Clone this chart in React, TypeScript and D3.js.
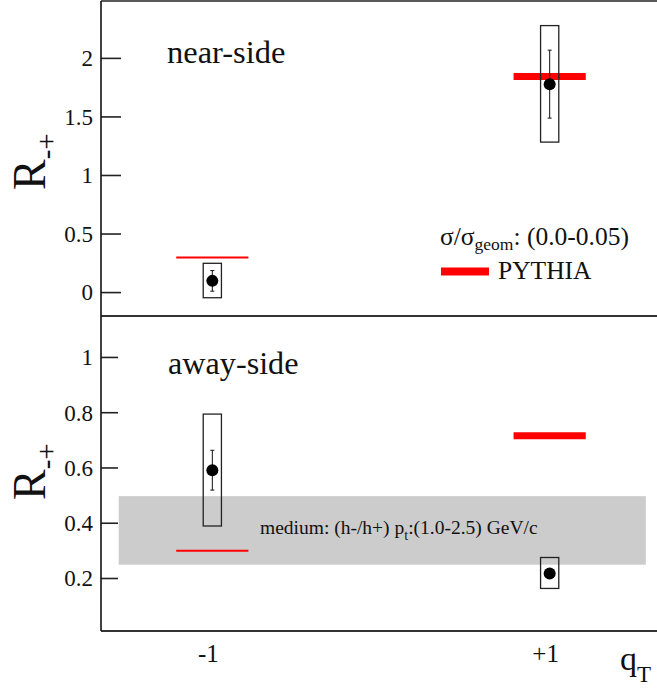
import React from 'react';
import * as d3 from 'd3';

// ---- data ----
const qValues = [-1, 1];
const qLabels = ['-1', '+1'];

const nearValue = [0.1, 1.78];
const nearStat = [0.088, 0.29];
const nearSysLow = [-0.044, 1.285];
const nearSysHigh = [0.25, 2.28];
const nearPythia = [0.3, 1.846];

const awayValue = [0.592, 0.218];
const awayStat = [0.072, 0.012];
const awaySysLow = [0.39, 0.164];
const awaySysHigh = [0.795, 0.276];
const awayPythia = [0.3, 0.717];

const mediumBand = [0.25, 0.498];
const bandQRange = [-1.555, 1.57];

const nearTicks = [0, 0.5, 1, 1.5, 2];
const awayTicks = [0.2, 0.4, 0.6, 0.8, 1];

const nearDomain = [-0.2, 2.49];
const awayDomain = [0.01, 1.15];
const qDomain = [-1.66, 1.66];

// ---- styles ----
const FONT = "'Liberation Serif', 'DejaVu Serif', serif";
const W = 657;
const H = 688;
const LEFT = 101;
const pythiaWidths = [2, 7];
const boxHalf = 0.054;
const pythiaHalf = 0.214;

const x = d3.scaleLinear().domain(qDomain).range([LEFT, 661]);
const yNear = d3.scaleLinear().domain(nearDomain).range([316, 1]);
const yAway = d3.scaleLinear().domain(awayDomain).range([631, 316]);

function fmt(v: number) {
  return String(v);
}

type PanelProps = {
  y: d3.ScaleLinear<number, number>;
  ticks: number[];
  tickLen: number;
  value: number[];
  stat: number[];
  sysLow: number[];
  sysHigh: number[];
  pythia: number[];
};

function Panel({ y, ticks, tickLen, value, stat, sysLow, sysHigh, pythia }: PanelProps) {
  return (
    <g>
      {ticks.map((t) => (
        <g key={t}>
          <line x1={LEFT} x2={LEFT + tickLen} y1={y(t)} y2={y(t)} stroke="#222" strokeWidth={1.6} />
          <text
            x={93}
            y={y(t)}
            dy="0.34em"
            textAnchor="end"
            style={{ fontFamily: FONT }}
            fontSize={23}
            fill="#111"
          >
            {fmt(t)}
          </text>
        </g>
      ))}
      {qValues.map((q, i) => (
        <line
          key={'p' + i}
          x1={x(q - pythiaHalf)}
          x2={x(q + pythiaHalf)}
          y1={y(pythia[i])}
          y2={y(pythia[i])}
          stroke="#ff0000"
          strokeWidth={pythiaWidths[i]}
        />
      ))}
      {qValues.map((q, i) => (
        <g key={'d' + i}>
          <rect
            x={x(q - boxHalf)}
            y={y(sysHigh[i])}
            width={x(q + boxHalf) - x(q - boxHalf)}
            height={y(sysLow[i]) - y(sysHigh[i])}
            fill="none"
            stroke="#222"
            strokeWidth={1.3}
          />
          <line x1={x(q)} x2={x(q)} y1={y(value[i] + stat[i])} y2={y(value[i] - stat[i])} stroke="#111" strokeWidth={1} />
          <line x1={x(q) - 2} x2={x(q) + 2} y1={y(value[i] + stat[i])} y2={y(value[i] + stat[i])} stroke="#111" strokeWidth={1} />
          <line x1={x(q) - 2} x2={x(q) + 2} y1={y(value[i] - stat[i])} y2={y(value[i] - stat[i])} stroke="#111" strokeWidth={1} />
          <circle cx={x(q)} cy={y(value[i])} r={6} fill="#000" />
        </g>
      ))}
    </g>
  );
}

function RLabel({ px, py }: { px: number; py: number }) {
  return (
    <text
      transform={`translate(${px},${py}) rotate(-90)`}
      style={{ fontFamily: FONT }}
      fontSize={46}
      fill="#111"
    >
      R
      <tspan fontSize={29} dy={11}>-+</tspan>
    </text>
  );
}

export default function App() {
  return (
    <svg
      width={W}
      height={H}
      style={{ position: 'absolute', left: 0, top: 0, background: '#fff', fontFamily: FONT }}
    >
      <rect x={0} y={0} width={W} height={H} fill="#fff" />
      {/* medium band */}
      <rect
        x={x(bandQRange[0])}
        y={yAway(mediumBand[1])}
        width={x(bandQRange[1]) - x(bandQRange[0])}
        height={yAway(mediumBand[0]) - yAway(mediumBand[1])}
        fill="#cccccc"
      />
      <text x={260} y={534} style={{ fontFamily: FONT }} fontSize={19.5} fill="#111">
        medium: (h-/h+) p<tspan fontSize={14} dy={6}>t</tspan>
        <tspan dy={-6}>:(1.0-2.5) GeV/c</tspan>
      </text>

      <Panel
        y={yNear}
        ticks={nearTicks}
        tickLen={20}
        value={nearValue}
        stat={nearStat}
        sysLow={nearSysLow}
        sysHigh={nearSysHigh}
        pythia={nearPythia}
      />
      <Panel
        y={yAway}
        ticks={awayTicks}
        tickLen={17}
        value={awayValue}
        stat={awayStat}
        sysLow={awaySysLow}
        sysHigh={awaySysHigh}
        pythia={awayPythia}
      />

      {/* frames */}
      <line x1={LEFT} x2={W} y1={1} y2={1} stroke="#222" strokeWidth={1.6} />
      <line x1={LEFT} x2={W} y1={316} y2={316} stroke="#333" strokeWidth={1.8} />
      <line x1={LEFT} x2={W} y1={631} y2={631} stroke="#333" strokeWidth={1.8} />
      <line x1={LEFT} x2={LEFT} y1={1} y2={631} stroke="#111" strokeWidth={1.6} />

      {/* panel titles */}
      <text x={167} y={63} style={{ fontFamily: FONT }} fontSize={32.5} fill="#111">near-side</text>
      <text x={168} y={374} style={{ fontFamily: FONT }} fontSize={32.2} fill="#111">away-side</text>

      {/* legend */}
      <text x={440} y={245} style={{ fontFamily: FONT }} fontSize={25.5} fill="#111">
        σ/σ<tspan fontSize={17.5} dy={5}>geom</tspan>
        <tspan dy={-5}>: (0.0-0.05)</tspan>
      </text>
      <line x1={441} x2={489} y1={271.5} y2={271.5} stroke="#ff0000" strokeWidth={8} />
      <text x={498} y={279} style={{ fontFamily: FONT }} fontSize={25.5} fill="#111">PYTHIA</text>

      {/* y titles */}
      <RLabel px={45} py={190} />
      <RLabel px={45} py={500} />

      {/* x labels */}
      {qValues.map((q, i) => (
        <text
          key={q}
          x={x(q) - 4}
          y={662}
          textAnchor="middle"
          style={{ fontFamily: FONT }}
          fontSize={25}
          fill="#111"
        >
          {qLabels[i]}
        </text>
      ))}
      <text x={620} y={670} style={{ fontFamily: FONT }} fontSize={34} fill="#111">
        q<tspan fontSize={23} dy={12}>T</tspan>
      </text>
    </svg>
  );
}
